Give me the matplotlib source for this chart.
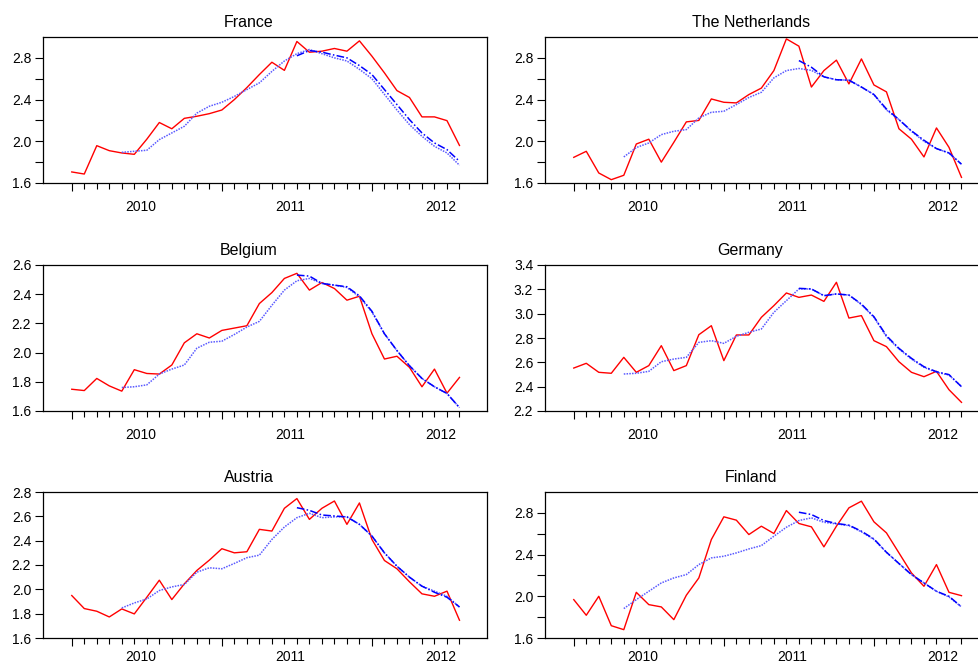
import numpy as np
import matplotlib.pyplot as plt
from matplotlib.ticker import MultipleLocator, FixedLocator

plt.rcParams['font.family'] = ['Liberation Sans', 'DejaVu Sans']

# monthly observations, 2010M01 .. 2012M08
months = np.arange(32)
year_labels = ['2010', '2011', '2012']
year_starts = [0, 12, 24]

countries = ['France', 'The Netherlands', 'Belgium', 'Germany', 'Austria', 'Finland']

# actual series (red)
france_actual = [1.706, 1.686, 1.958, 1.91, 1.888, 1.875, 2.02, 2.18, 2.12, 2.22, 2.24, 2.265,
                 2.30, 2.40, 2.515, 2.64, 2.758, 2.68, 2.957, 2.854, 2.864, 2.89, 2.864, 2.963,
                 2.816, 2.656, 2.486, 2.42, 2.234, 2.234, 2.198, 1.96]
nl_actual = [1.846, 1.904, 1.696, 1.632, 1.674, 1.974, 2.02, 1.80, 1.99, 2.186, 2.20, 2.406,
             2.374, 2.368, 2.448, 2.51, 2.678, 2.982, 2.912, 2.52, 2.678, 2.778, 2.55, 2.79,
             2.54, 2.474, 2.12, 2.02, 1.85, 2.128, 1.942, 1.654]
belgium_actual = [1.749, 1.74, 1.823, 1.772, 1.736, 1.883, 1.857, 1.853, 1.915, 2.067, 2.129, 2.10,
                  2.152, 2.168, 2.184, 2.336, 2.411, 2.508, 2.543, 2.428, 2.48, 2.439, 2.359, 2.386,
                  2.129, 1.956, 1.975, 1.899, 1.766, 1.887, 1.722, 1.83]
germany_actual = [2.553, 2.592, 2.518, 2.51, 2.641, 2.518, 2.573, 2.737, 2.532, 2.573, 2.827, 2.901,
                  2.614, 2.825, 2.825, 2.97, 3.066, 3.17, 3.134, 3.153, 3.101, 3.258, 2.964, 2.984,
                  2.778, 2.729, 2.605, 2.518, 2.482, 2.526, 2.375, 2.271]
austria_actual = [1.949, 1.842, 1.82, 1.773, 1.839, 1.798, 1.935, 2.075, 1.916, 2.045, 2.155, 2.24,
                  2.334, 2.30, 2.309, 2.493, 2.479, 2.666, 2.746, 2.575, 2.666, 2.726, 2.534, 2.71,
                  2.41, 2.237, 2.169, 2.062, 1.963, 1.943, 1.985, 1.746]
finland_actual = [1.968, 1.818, 2.0, 1.718, 1.68, 2.038, 1.92, 1.898, 1.776, 2.01, 2.176, 2.544,
                  2.762, 2.73, 2.592, 2.672, 2.602, 2.822, 2.698, 2.666, 2.474, 2.672, 2.848, 2.912,
                  2.714, 2.608, 2.416, 2.224, 2.096, 2.304, 2.038, 2.006]

# first fitted series (dotted), from 2010M05
fit_start = 4
france_fit = [1.894, 1.904, 1.914, 2.016, 2.08, 2.144, 2.27, 2.336, 2.374, 2.43, 2.496, 2.56,
              2.67, 2.77, 2.84, 2.88, 2.84, 2.80, 2.77, 2.69, 2.60, 2.45, 2.30, 2.16,
              2.048, 1.952, 1.888, 1.77]
nl_fit = [1.85, 1.94, 1.984, 2.064, 2.096, 2.112, 2.224, 2.278, 2.288, 2.352, 2.42, 2.47,
          2.608, 2.678, 2.698, 2.68, 2.618, 2.59, 2.586, 2.52, 2.448, 2.30, 2.208, 2.096,
          2.0, 1.93, 1.888, 1.78]
belgium_fit = [1.761, 1.766, 1.779, 1.853, 1.887, 1.915, 2.03, 2.071, 2.078, 2.124, 2.175, 2.214,
               2.324, 2.428, 2.492, 2.508, 2.474, 2.462, 2.446, 2.382, 2.278, 2.129, 2.014, 1.91,
               1.823, 1.766, 1.72, 1.623]
germany_fit = [2.504, 2.51, 2.526, 2.605, 2.627, 2.641, 2.764, 2.778, 2.756, 2.814, 2.847, 2.874,
               3.011, 3.107, 3.203, 3.203, 3.148, 3.162, 3.153, 3.074, 2.97, 2.811, 2.71, 2.627,
               2.559, 2.518, 2.496, 2.4]
austria_fit = [1.847, 1.888, 1.921, 1.99, 2.02, 2.04, 2.141, 2.177, 2.169, 2.213, 2.26, 2.281,
               2.41, 2.512, 2.589, 2.625, 2.589, 2.595, 2.597, 2.534, 2.438, 2.30, 2.19, 2.10,
               2.026, 1.985, 1.943, 1.855]
finland_fit = [1.882, 1.968, 2.048, 2.128, 2.176, 2.208, 2.304, 2.368, 2.384, 2.416, 2.454, 2.486,
               2.576, 2.662, 2.726, 2.752, 2.71, 2.694, 2.678, 2.618, 2.544, 2.422, 2.314, 2.208,
               2.128, 2.048, 1.994, 1.898]

# second fitted series (dash-dot), from 2011M07
fit2_start = 18
france_fit2 = [2.82, 2.87, 2.855, 2.826, 2.80, 2.726, 2.64, 2.496, 2.352, 2.208, 2.08, 1.984, 1.92, 1.808]
nl_fit2 = [2.774, 2.71, 2.618, 2.59, 2.586, 2.52, 2.448, 2.31, 2.208, 2.10, 2.01, 1.93, 1.888, 1.78]
belgium_fit2 = [2.531, 2.524, 2.474, 2.462, 2.451, 2.389, 2.283, 2.129, 2.014, 1.91, 1.823, 1.766, 1.72, 1.623]
germany_fit2 = [3.208, 3.203, 3.148, 3.162, 3.153, 3.079, 2.975, 2.819, 2.715, 2.633, 2.564, 2.523, 2.499, 2.4]
austria_fit2 = [2.671, 2.649, 2.611, 2.603, 2.595, 2.534, 2.438, 2.30, 2.19, 2.10, 2.026, 1.976, 1.935, 1.855]
finland_fit2 = [2.806, 2.784, 2.726, 2.698, 2.682, 2.624, 2.55, 2.422, 2.314, 2.208, 2.128, 2.048, 2.0, 1.898]

actual = [france_actual, nl_actual, belgium_actual, germany_actual, austria_actual, finland_actual]
fit1 = [france_fit, nl_fit, belgium_fit, germany_fit, austria_fit, finland_fit]
fit2 = [france_fit2, nl_fit2, belgium_fit2, germany_fit2, austria_fit2, finland_fit2]

# y ranges and label steps per panel
ylims = [(1.6, 3.0), (1.6, 3.0), (1.6, 2.6), (2.2, 3.4), (1.6, 2.8), (1.6, 3.0)]
label_step = [0.4, 0.4, 0.2, 0.2, 0.2, 0.4]

fig = plt.figure(figsize=(9.79, 6.66), dpi=100)
W, H = 979, 666
lefts = [43, 545]
tops = [37, 265, 492]
ax_w, ax_h = 444, 146

for k, name in enumerate(countries):
    row, col = k // 2, k % 2
    ax = fig.add_axes([lefts[col] / W, (H - tops[row] - ax_h) / H, ax_w / W, ax_h / H])

    ax.plot(months, actual[k], color='#ff0000', lw=1.0, zorder=3)
    ax.plot(months[fit_start:], fit1[k], color='#5a5aff', lw=1.1, ls=(0, (1, 0.8)), zorder=4)
    ax.plot(months[fit2_start:], fit2[k], color='#0000ff', lw=1.1, ls=(0, (5, 1.5, 1, 1.5)), zorder=5)

    lo, hi = ylims[k]
    ax.set_xlim(-2.3, 33.2)
    ax.set_ylim(lo, hi)

    # y axis: labelled ticks plus unlabelled ones in between (none on the top edge)
    ax.yaxis.set_major_locator(MultipleLocator(label_step[k]))
    ax.yaxis.set_minor_locator(FixedLocator(np.arange(lo, hi - 0.1, 0.2)))
    ax.yaxis.set_major_formatter(lambda v, p: f'{v:.1f}')
    ax.tick_params(axis='y', which='both', direction='out', length=5.5, width=0.8,
                   labelsize=10, pad=3)

    # x axis: year ticks long, month ticks short, labels centred on each year
    ax.xaxis.set_major_locator(FixedLocator(year_starts))
    ax.xaxis.set_minor_locator(FixedLocator(months))
    ax.tick_params(axis='x', which='major', direction='out', length=6, width=0.8, labelbottom=False)
    ax.tick_params(axis='x', which='minor', direction='out', length=4, width=0.8)
    sec = ax.secondary_xaxis('bottom')
    sec.set_xticks([s + 5.5 for s in year_starts], year_labels)
    sec.tick_params(length=0, pad=12 if row < 2 else 8.5, labelsize=10)
    sec.spines['bottom'].set_visible(False)

    for s in ax.spines.values():
        s.set_linewidth(0.9)

    ax.set_title(name, fontsize=11.5, x=0.463, pad=7)

plt.savefig('out.png', dpi=100)
